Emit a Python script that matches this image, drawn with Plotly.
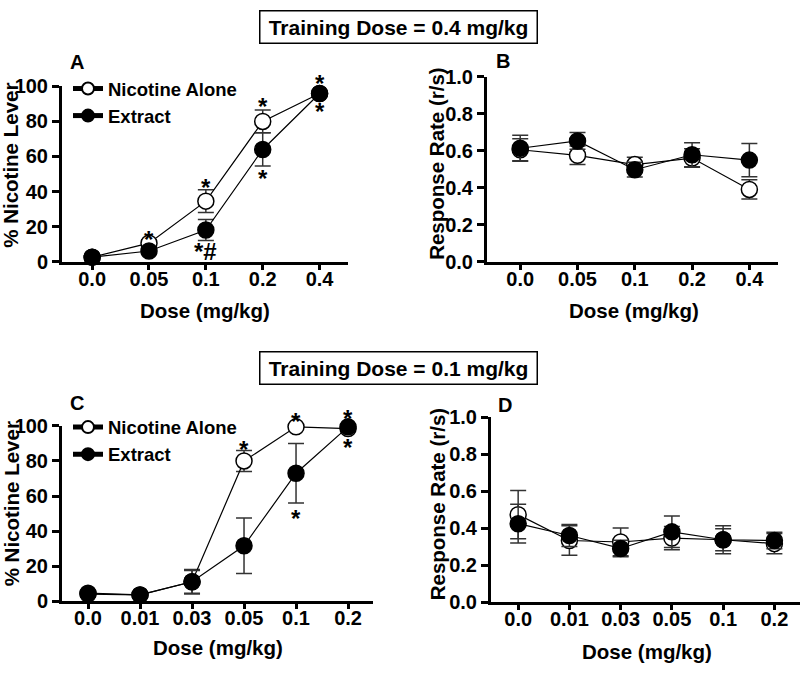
import plotly.graph_objects as go

FONT = "Liberation Sans, Arial, sans-serif"

# ---------------- data ----------------
doses_A = ["0.0", "0.05", "0.1", "0.2", "0.4"]
nic_A = [2.5, 10.5, 34.5, 80, 96]
nic_A_err = [1, 2, 6.5, 6.5, 1]
ext_A = [2.5, 6, 18, 64, 96]
ext_A_err = [1, 1.5, 6, 9.5, 1]

nic_B = [0.605, 0.575, 0.525, 0.56, 0.39]
nic_B_err = [0.06, 0.05, 0.04, 0.05, 0.052]
ext_B = [0.613, 0.653, 0.497, 0.578, 0.549]
ext_B_err = [0.07, 0.045, 0.04, 0.065, 0.09]

doses_C = ["0.0", "0.01", "0.03", "0.05", "0.1", "0.2"]
nic_C = [4.5, 3.5, 11, 80, 99.5, 98.5]
nic_C_err = [1, 1, 7, 6, 1, 1]
ext_C = [4, 3.5, 11, 31.6, 73, 99.5]
ext_C_err = [1, 1, 6.5, 15.8, 17, 1]

nic_D = [0.473, 0.333, 0.325, 0.346, 0.337, 0.316]
nic_D_err = [0.13, 0.08, 0.075, 0.063, 0.06, 0.055]
ext_D = [0.424, 0.36, 0.29, 0.38, 0.337, 0.333]
ext_D_err = [0.105, 0.06, 0.045, 0.085, 0.076, 0.045]

# significance marks
sig_A_x = ["0.05", "0.1", "0.1", "0.2", "0.2", "0.4", "0.4"]
sig_A_y = [16, 45.5, 9, 91.7, 50.8, 105, 89]
sig_A_text = ["*", "*", "*#", "*", "*", "*", "*"]

sig_C_x = ["0.05", "0.1", "0.1", "0.2", "0.2"]
sig_C_y = [90.2, 106, 50.8, 107.7, 91]
sig_C_text = ["*", "*", "*", "*", "*"]

W, H = 800, 673


def px_x(p):
    return p / W


def px_y(p):
    return 1 - p / H


fig = go.Figure()

ERR_COLOR = "#333333"


def add_pair(x, nic, nic_err, ext, ext_err, xa, ya, legend, showlegend):
    fig.add_trace(go.Scatter(
        x=x, y=nic, mode="lines+markers", name="Nicotine Alone",
        xaxis=xa, yaxis=ya, legend=legend, showlegend=showlegend,
        line=dict(color="black", width=1.2),
        marker=dict(symbol="circle", size=16, color="white",
                    line=dict(color="black", width=1.5)),
        error_y=dict(type="data", array=nic_err, color=ERR_COLOR,
                     thickness=1.5, width=8),
        cliponaxis=False,
    ))
    fig.add_trace(go.Scatter(
        x=x, y=ext, mode="lines+markers", name="Extract",
        xaxis=xa, yaxis=ya, legend=legend, showlegend=showlegend,
        line=dict(color="black", width=1.2),
        marker=dict(symbol="circle", size=16, color="black",
                    line=dict(color="black", width=1.5)),
        error_y=dict(type="data", array=ext_err, color=ERR_COLOR,
                     thickness=1.5, width=8),
        cliponaxis=False,
    ))


add_pair(doses_A, nic_A, nic_A_err, ext_A, ext_A_err, "x", "y", "legend", True)
add_pair(doses_A, nic_B, nic_B_err, ext_B, ext_B_err, "x2", "y2", "legend", False)
add_pair(doses_C, nic_C, nic_C_err, ext_C, ext_C_err, "x3", "y3", "legend2", True)
add_pair(doses_C, nic_D, nic_D_err, ext_D, ext_D_err, "x4", "y4", "legend2", False)

tickfont = dict(family=FONT, size=20, color="black", weight="bold")


def xax(domain, rng, anchor):
    return dict(domain=domain, range=rng, type="category", anchor=anchor,
                showline=True, linecolor="black", linewidth=3,
                ticks="outside", ticklen=5, tickwidth=2.5, tickcolor="black",
                ticklabelstandoff=-8,
                showgrid=False, zeroline=False, tickfont=tickfont)


def yax(domain, rng, dtick, fmt, anchor):
    return dict(domain=domain, range=rng, anchor=anchor, dtick=dtick,
                tickformat=fmt, showline=True, linecolor="black", linewidth=3,
                ticks="outside", ticklen=7, tickwidth=3, tickcolor="black",
                showgrid=False, zeroline=False, tickfont=tickfont)


Y_RANGE_PCT = [0, 100]
Y_RANGE_RATE = [0, 1.0]

legfont = dict(family=FONT, size=18.5, color="black", weight="bold")
fig.update_layout(
    width=W, height=H, margin=dict(l=0, r=0, t=0, b=0),
    paper_bgcolor="white", plot_bgcolor="white",
    font=dict(family=FONT, color="black"),
    xaxis=xax([px_x(62), px_x(348)], [-0.53, 4.5], "y"),
    yaxis=yax([px_y(259), px_y(78)], Y_RANGE_PCT, 20, "d", "x"),
    xaxis2=xax([px_x(487), px_x(778)], [-0.58, 4.5], "y2"),
    yaxis2=yax([px_y(259), px_y(68)], Y_RANGE_RATE, 0.2, ".1f", "x2"),
    xaxis3=xax([px_x(62), px_x(373)], [-0.5, 5.48], "y3"),
    yaxis3=yax([px_y(610), px_y(429)], Y_RANGE_PCT, 20, "d", "x3"),
    xaxis4=xax([px_x(491), px_x(800)], [-0.53, 5.5], "y4"),
    yaxis4=yax([px_y(611), px_y(420)], Y_RANGE_RATE, 0.2, ".1f", "x4"),
    legend=dict(x=px_x(68), y=px_y(61), xanchor="left", yanchor="top",
                bgcolor="rgba(0,0,0,0)", font=legfont, itemsizing="constant",
                itemwidth=30, tracegroupgap=0),
    legend2=dict(x=px_x(68), y=px_y(411), xanchor="left", yanchor="top",
                 bgcolor="rgba(0,0,0,0)", font=legfont, itemsizing="constant",
                 itemwidth=30, tracegroupgap=0),
)

ann = []
bold = dict(family=FONT, size=20, color="black", weight="bold")
starfont = dict(family=FONT, size=24, color="black", weight="bold")
for cats, xs, ys, ts, xr, yr in [(doses_A, sig_A_x, sig_A_y, sig_A_text, "x", "y domain"),
                                 (doses_C, sig_C_x, sig_C_y, sig_C_text, "x3", "y3 domain")]:
    for xv, yv, tv in zip(xs, ys, ts):
        ydom = (yv - Y_RANGE_PCT[0]) / (Y_RANGE_PCT[1] - Y_RANGE_PCT[0])
        ann.append(dict(x=cats.index(xv), y=ydom, xref=xr, yref=yr, text=tv, showarrow=False,
                        font=starfont, xanchor="center", yanchor="middle", yshift=-6))

# panel letters
for letter, xp, yp in [("A", 77, 53), ("B", 503, 52), ("C", 77, 405), ("D", 505, 407)]:
    ann.append(dict(x=px_x(xp), y=px_y(yp), xref="paper", yref="paper", text=letter,
                    showarrow=False, font=bold, xanchor="center", yanchor="middle"))

# axis titles
tfont = dict(family=FONT, size=20.5, color="black", weight="bold")
for txt, xp, yp, ang in [("% Nicotine Lever", 11, 160, -90),
                         ("Response Rate (r/s)", 437, 158, -90),
                         ("% Nicotine Lever", 11, 510, -90),
                         ("Response Rate (r/s)", 437, 510, -90),
                         ("Dose (mg/kg)", 205, 310, 0),
                         ("Dose (mg/kg)", 634, 310, 0),
                         ("Dose (mg/kg)", 218, 658, 0),
                         ("Dose (mg/kg)", 647, 662, 0)]:
    ann.append(dict(x=px_x(xp), y=px_y(yp), xref="paper", yref="paper", text=txt,
                    showarrow=False, font=tfont, textangle=ang,
                    xanchor="center", yanchor="middle"))

# boxed headers
for txt, xp, yp in [("Training Dose = 0.4 mg/kg", 398.5, 17),
                    ("Training Dose = 0.1 mg/kg", 398.5, 369.5)]:
    ann.append(dict(x=px_x(xp), y=px_y(yp), xref="paper", yref="paper", text=txt,
                    showarrow=False, font=dict(family=FONT, size=21, color="black", weight="bold"),
                    bordercolor="black", borderwidth=1.5, borderpad=2,
                    width=272, height=27, bgcolor="white",
                    xanchor="center", yanchor="middle"))

fig.update_layout(annotations=ann)
fig.write_html(
    "out.html",
    config={"displayModeBar": False},
    post_script=(
        "document.documentElement.style.margin='0';"
        "document.documentElement.style.overflow='hidden';"
        "document.body.style.margin='0';document.body.style.overflow='hidden';"
        "var d=document.getElementById('{plot_id}');"
        "d.style.position='fixed';d.style.left='0px';d.style.top='0px';"
    ),
)
